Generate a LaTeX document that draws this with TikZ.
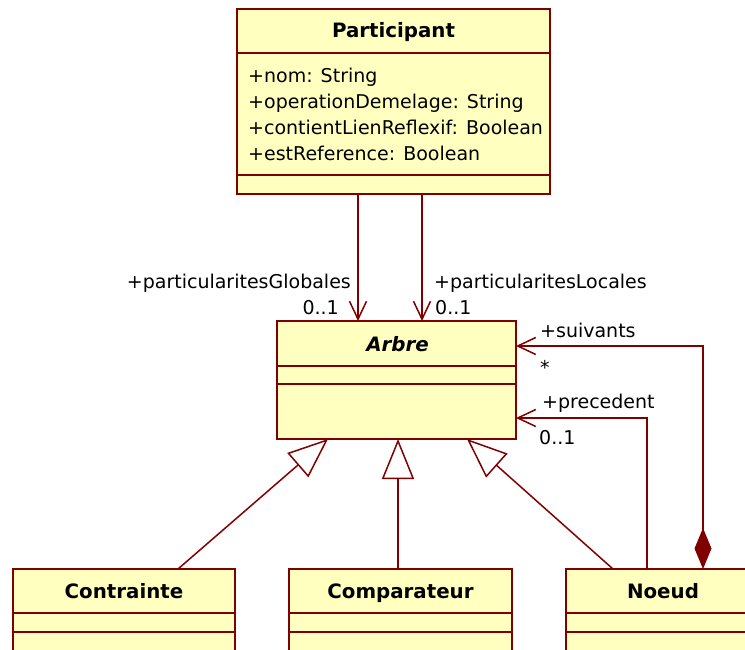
\documentclass[tikz,border=0pt]{standalone}
\usepackage{fontspec}
\setmainfont{DejaVu Sans}
\usepackage{xcolor}
\usepackage{tikz}
\usetikzlibrary{calc,arrows.meta,positioning}
\definecolor{umlborder}{RGB}{128,0,0}
\definecolor{umlfill}{RGB}{255,255,192}

\begin{document}
\begin{tikzpicture}[x=1pt,y=-1pt]
    \tikzset{classbox/.style={draw=umlborder,fill=umlfill,line width=1.5pt,anchor=north west,inner sep=0pt,outer sep=0pt},
      sepline/.style={draw=umlborder,line width=1.5pt},
      cname/.style={font=\fontsize{19.8}{23}\selectfont\bfseries,anchor=base,inner sep=0pt},
      attr/.style={font=\fontsize{19}{23}\selectfont,anchor=base west,inner sep=0pt},
      role/.style={font=\fontsize{19}{23}\selectfont,inner sep=0pt},
      link/.style={draw=umlborder,line width=1.5pt},
      navig/.style={link,-{Straight Barb[length=18pt,width=17pt]}},
      gener/.style={link,-{Triangle[open,fill=white,length=40pt,width=32pt]}},
      compo/.style={link,{Diamond[length=41pt,width=17pt]}-{Straight Barb[length=18pt,width=17pt]}}}
    \useasboundingbox (0,0) rectangle (745,650);
    \node[classbox,minimum width=313pt,minimum height=185pt] (participant) at (237,9) {};
    \draw[sepline] ($(participant.north west)+(0,44)$) -- ($(participant.north east)+(0,44)$);
    \draw[sepline] ($(participant.north west)+(0,166)$) -- ($(participant.north east)+(0,166)$);
    \node[cname] (participantName) at (393.5,38) {Participant};
    \foreach \a/\txt in {1/+nom: String,2/+operationDemelage: String,3/+contientLienReflexif: Boolean,4/+estReference: Boolean}{
      \node[attr] (attr\a) at (248,{57+\a*25.9}) {\txt};
    }
    \node[classbox,minimum width=239pt,minimum height=118pt] (arbre) at (277,321) {};
    \draw[sepline] ($(arbre.north west)+(0,45)$) -- ($(arbre.north east)+(0,45)$);
    \draw[sepline] ($(arbre.north west)+(0,63)$) -- ($(arbre.north east)+(0,63)$);
    \node[cname,font=\fontsize{19.8}{23}\selectfont\bfseries\itshape] (arbreName) at (397.5,351) {Arbre};
    \foreach \nm/\lbl/\xx/\ww in {contrainte/Contrainte/13/222,comparateur/Comparateur/289/223,noeud/Noeud/566/194}{
      \node[classbox,minimum width=\ww pt,minimum height=110pt] (\nm) at (\xx,569) {};
      \draw[sepline] ($(\nm.north west)+(0,44)$) -- ($(\nm.north east)+(0,44)$);
      \draw[sepline] ($(\nm.north west)+(0,63)$) -- ($(\nm.north east)+(0,63)$);
      \node[cname] (\nm Name) at ($(\nm.north)+(0,29)$) {\lbl};
    }
    \draw[navig] ($(participant.south west)+(121,0)$) -- ($(arbre.north west)+(81,0)$);
    \draw[navig] ($(participant.south west)+(185,0)$) -- ($(arbre.north west)+(145,0)$);
    \draw[gener] ($(contrainte.north west)+(165,0)$) -- ($(arbre.south west)+(51,0)$);
    \draw[gener] ($(comparateur.north west)+(109,0)$) -- ($(arbre.south west)+(121,0)$);
    \draw[gener] ($(noeud.north west)+(47,0)$) -- ($(arbre.south west)+(190,0)$);
    \draw[compo] ($(noeud.north west)+(137,0)$) |- ($(arbre.north east)+(0,25)$);
    \draw[navig] ($(noeud.north west)+(81,0)$) |- ($(arbre.north east)+(0,97)$);
    \node[role,anchor=base east] (globRole) at (351,288) {+particularitesGlobales};
    \node[role,anchor=base east] (globMult) at (339,314) {0..1};
    \node[role,anchor=base west] (locRole) at (434,288) {+particularitesLocales};
    \node[role,anchor=base west] (locMult) at (435,314) {0..1};
    \node[role,anchor=base west] (suivRole) at (540,337) {+suivants};
    \node[role,anchor=base west] (suivMult) at (540,374) {*};
    \node[role,anchor=base west] (precRole) at (542,408) {+precedent};
    \node[role,anchor=base west] (precMult) at (539,444) {0..1};
  \end{tikzpicture}
\end{document}
